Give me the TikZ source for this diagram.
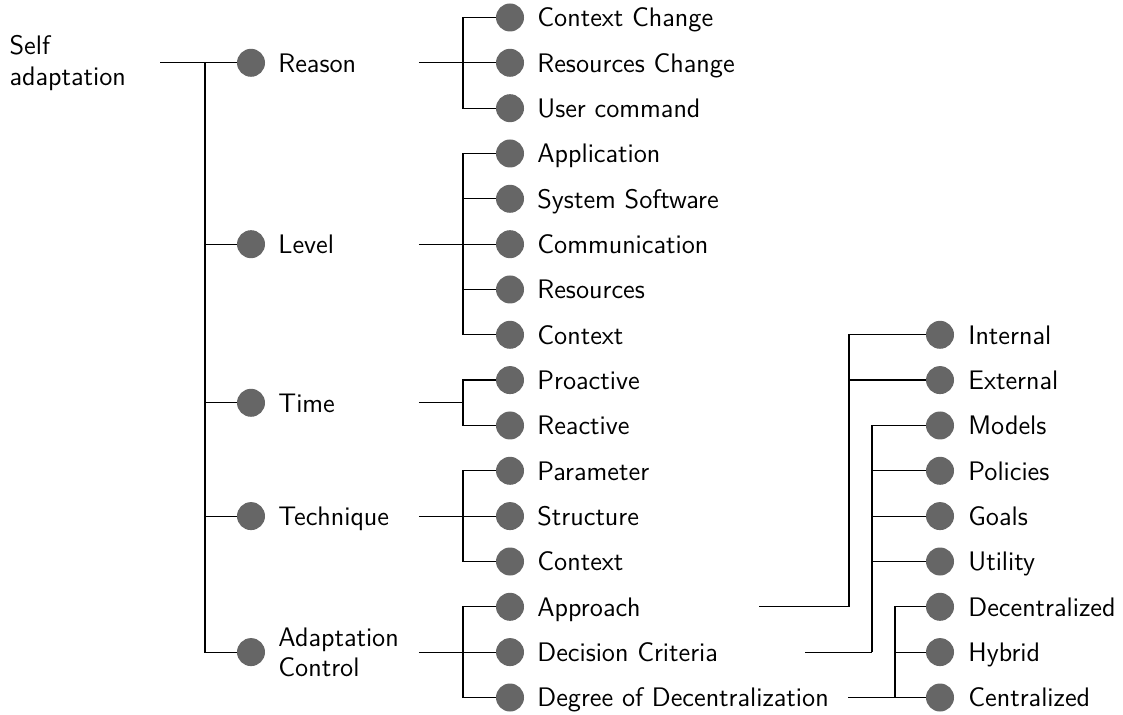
\documentclass[tikz,border=0pt]{standalone}
\usepackage{fontspec}
\definecolor{dotgray}{HTML}{666666}
\begin{document}
\begin{tikzpicture}[
  x=0.5pt, y=-0.5pt,
  link/.style={line width=0.6pt, draw=black},
  dot/.style={circle, fill=dotgray, draw=none, minimum size=14pt, inner sep=0pt},
  lbl/.style={anchor=west, inner sep=0pt, text height=9.3pt, text depth=0pt,
              font=\sffamily\fontsize{13.4}{15.4}\selectfont},
  cat/.style={lbl, text width=70pt, align=left},
  twoline/.style={text depth=15.4pt},
]
\useasboundingbox (0,0) rectangle (1123,715);

% root
\node[lbl, twoline, anchor=east, text width=75pt, align=left] (root) at (160,60.5) {Self\\adaptation};
\coordinate (b-root) at (205,62.8);

% first level
\node[dot] (reason) at (251,62.8) {};
\node[cat] (l-reason) at (278,62.8) {Reason};
\node[dot] (level) at (251,244.2) {};
\node[cat] (l-level) at (278,244.2) {Level};
\node[dot] (time) at (251,402.8) {};
\node[cat] (l-time) at (278,402.8) {Time};
\node[dot] (technique) at (251,516.1) {};
\node[cat] (l-technique) at (278,516.1) {Technique};
\node[dot] (control) at (251,652.1) {};
\node[cat, twoline] (l-control) at (278,652.1) {Adaptation\\Control};

% second level
\node[dot] (ctxchange) at (510,17.5) {};
\node[lbl] (l-ctxchange) at (537,17.5) {Context Change};
\node[dot] (reschange) at (510,62.8) {};
\node[lbl] (l-reschange) at (537,62.8) {Resources Change};
\node[dot] (usercmd) at (510,108.2) {};
\node[lbl] (l-usercmd) at (537,108.2) {User command};

\node[dot] (application) at (510,153.5) {};
\node[lbl] (l-application) at (537,153.5) {Application};
\node[dot] (syssoft) at (510,198.8) {};
\node[lbl] (l-syssoft) at (537,198.8) {System Software};
\node[dot] (communication) at (510,244.2) {};
\node[lbl] (l-communication) at (537,244.2) {Communication};
\node[dot] (resources) at (510,289.5) {};
\node[lbl] (l-resources) at (537,289.5) {Resources};
\node[dot] (context) at (510,334.8) {};
\node[lbl] (l-context) at (537,334.8) {Context};

\node[dot] (proactive) at (510,380.1) {};
\node[lbl] (l-proactive) at (537,380.1) {Proactive};
\node[dot] (reactive) at (510,425.5) {};
\node[lbl] (l-reactive) at (537,425.5) {Reactive};

\node[dot] (parameter) at (510,470.8) {};
\node[lbl] (l-parameter) at (537,470.8) {Parameter};
\node[dot] (structure) at (510,516.1) {};
\node[lbl] (l-structure) at (537,516.1) {Structure};
\node[dot] (tcontext) at (510,561.5) {};
\node[lbl] (l-tcontext) at (537,561.5) {Context};

\node[dot] (approach) at (510,606.8) {};
\node[lbl] (l-approach) at (537,606.8) {Approach};
\node[dot] (criteria) at (510,652.1) {};
\node[lbl] (l-criteria) at (537,652.1) {Decision Criteria};
\node[dot] (degree) at (510,697.5) {};
\node[lbl] (l-degree) at (537,697.5) {Degree of Decentralization};

% third level
\node[dot] (internal) at (940,334.8) {};
\node[lbl] (l-internal) at (968,334.8) {Internal};
\node[dot] (external) at (940,380.1) {};
\node[lbl] (l-external) at (968,380.1) {External};
\node[dot] (models) at (940,425.5) {};
\node[lbl] (l-models) at (968,425.5) {Models};
\node[dot] (policies) at (940,470.8) {};
\node[lbl] (l-policies) at (968,470.8) {Policies};
\node[dot] (goals) at (940,516.1) {};
\node[lbl] (l-goals) at (968,516.1) {Goals};
\node[dot] (utility) at (940,561.5) {};
\node[lbl] (l-utility) at (968,561.5) {Utility};
\node[dot] (decentral) at (940,606.8) {};
\node[lbl] (l-decentral) at (968,606.8) {Decentralized};
\node[dot] (hybrid) at (940,652.1) {};
\node[lbl] (l-hybrid) at (968,652.1) {Hybrid};
\node[dot] (central) at (940,697.5) {};
\node[lbl] (l-central) at (968,697.5) {Centralized};

% branch points and free ends
\coordinate (b-reason) at (463,62.8);
\coordinate (b-level) at (463,244.2);
\coordinate (b-time) at (463,402.8);
\coordinate (b-technique) at (463,516.1);
\coordinate (b-control) at (463,652.1);
\coordinate (o-approach) at (759,606.8);
\coordinate (b-approach) at (849,606.8);
\coordinate (o-criteria) at (805,652.1);
\coordinate (b-criteria) at (872,652.1);
\coordinate (o-degree) at (848,697.5);
\coordinate (b-degree) at (895,697.5);

% connectors
\draw[link] (root.east |- b-root) -- (b-root);
\foreach \c in {reason,level,time,technique,control}
  \draw[link] (b-root) |- (\c.west);

\foreach \p/\kids in {reason/{ctxchange,reschange,usercmd},
                      level/{application,syssoft,communication,resources,context},
                      time/{proactive,reactive},
                      technique/{parameter,structure,tcontext},
                      control/{approach,criteria,degree}}{
  \draw[link] (l-\p.east |- b-\p) -- (b-\p);
  \foreach \c in \kids
    \draw[link] (b-\p) |- (\c.west);
}

\foreach \p/\kids in {approach/{internal,external},
                      criteria/{models,policies,goals,utility},
                      degree/{decentral,hybrid,central}}{
  \draw[link] (o-\p) -- (b-\p);
  \foreach \c in \kids
    \draw[link] (b-\p) |- (\c.west);
}
\end{tikzpicture}
\end{document}
